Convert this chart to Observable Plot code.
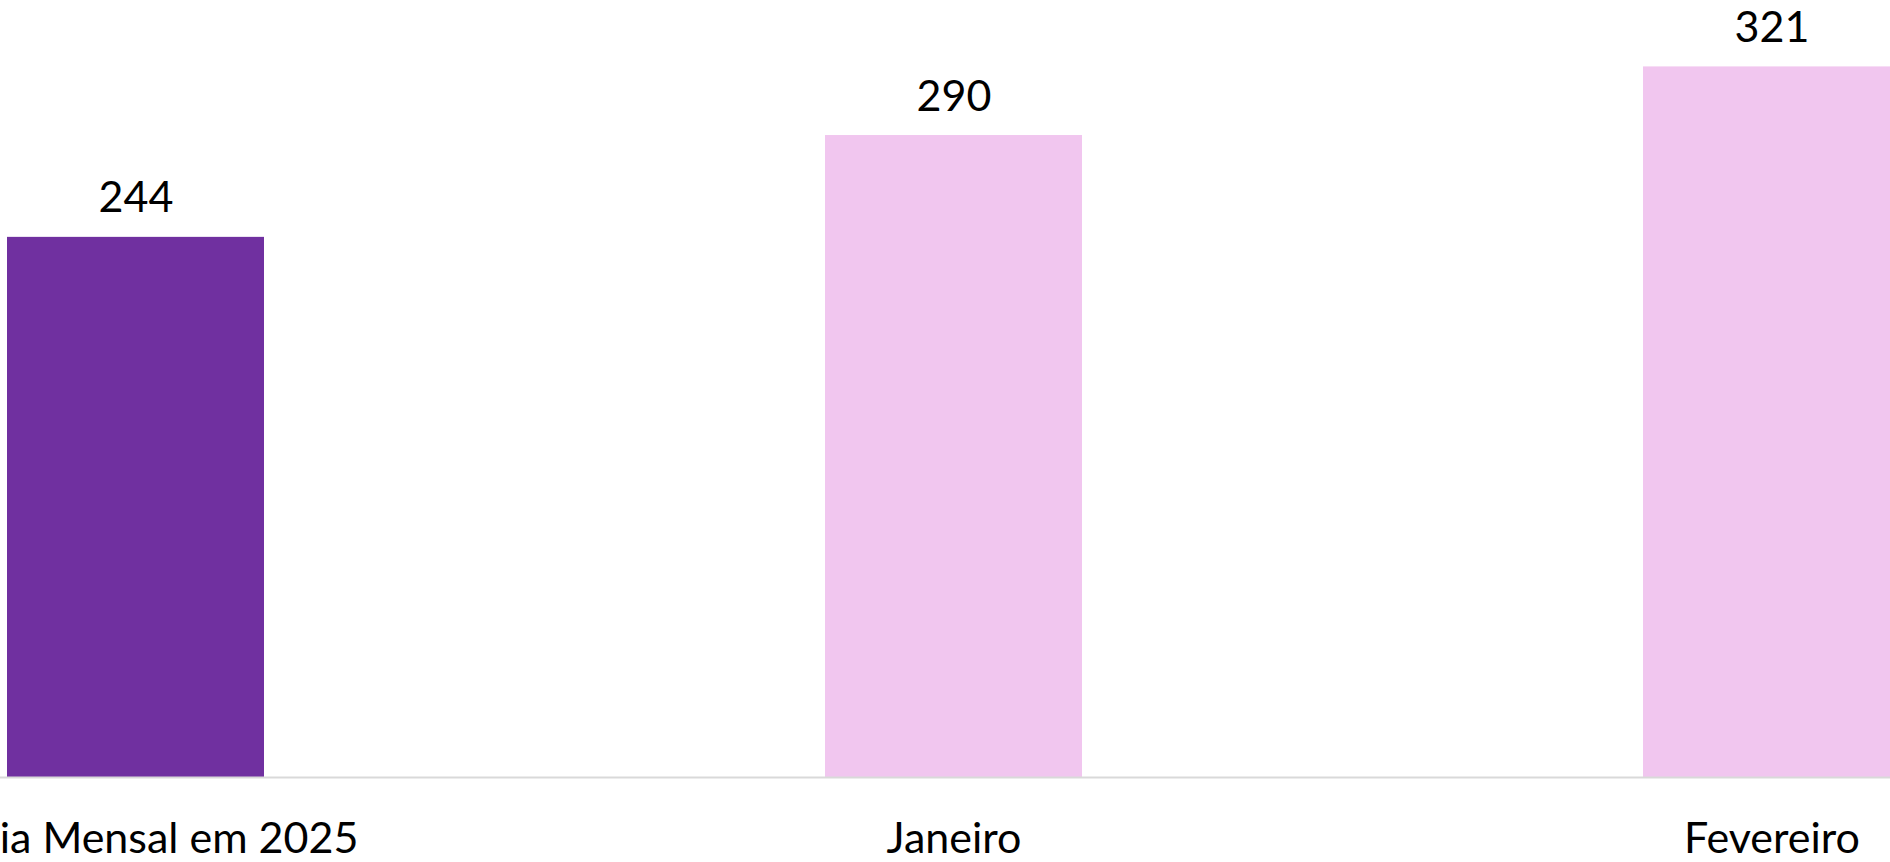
<!DOCTYPE html>
<html>
<head>
<meta charset="utf-8">
<script src="https://cdn.jsdelivr.net/npm/d3@7"></script>
<script src="https://cdn.jsdelivr.net/npm/@observablehq/plot@0.6"></script>
<style>
  html, body { margin: 0; padding: 0; background: #ffffff; overflow: hidden; }
  #chart svg { display: block; }
</style>
</head>
<body>
<div id="chart"></div>
<script>
const categories = ["Média Mensal em 2025", "Janeiro", "Fevereiro"];
const values = [244, 290, 321];

const data = categories.map((c, i) => ({category: c, value: values[i]}));

const barColors = ["#7030A0", "#F1C6EF", "#F1C6EF"];
const W = 1890, H = 862;
const step = 818.5;
const firstCenter = 134.5;

const chart = Plot.plot({
  width: W,
  height: H,
  marginTop: 0,
  marginBottom: 85,
  marginLeft: 0,
  marginRight: 0,
  style: {fontFamily: "Lato, 'Open Sans', sans-serif", background: "#ffffff", color: "#000000"},
  x: {
    type: "band",
    domain: categories,
    range: [firstCenter - step / 2, firstCenter + step * (categories.length - 0.5)],
    paddingInner: 0.686,
    paddingOuter: 0.343,
    label: null
  },
  y: {domain: [0, 351], axis: null},
  color: {domain: categories, range: barColors},
  marks: [
    Plot.barY(data, {x: "category", y: "value", fill: "category"}),
    Plot.ruleY([0], {stroke: "#D9D9D9", strokeWidth: 2}),
    Plot.text(data, {
      x: "category", y: "value", text: d => String(d.value),
      lineAnchor: "bottom", dy: -25, fontSize: 43, fill: "#000000"
    }),
    Plot.axisX({
      tickSize: 0, tickPadding: 45, fontSize: 43, label: null, fill: "#000000"
    })
  ]
});
document.getElementById("chart").appendChild(chart);
</script>
</body>
</html>
